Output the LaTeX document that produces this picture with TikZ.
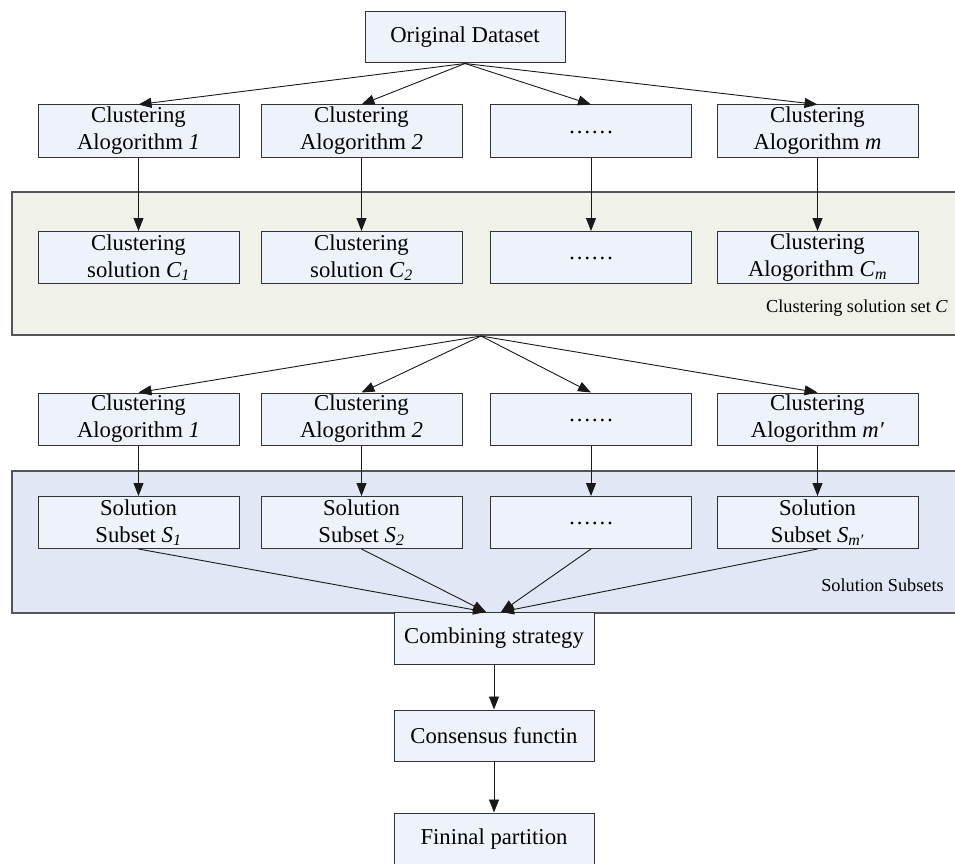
\documentclass[tikz,border=0pt]{standalone}
\usepackage{fontspec}
\setmainfont{Liberation Serif}
\usetikzlibrary{arrows.meta,calc}
\definecolor{boxfill}{HTML}{EEF2FA}
\definecolor{bandC}{HTML}{F0F1E9}
\definecolor{bandS}{HTML}{E1E7F5}
\definecolor{boxline}{HTML}{333333}
\definecolor{bandline}{HTML}{555555}
\tikzset{
  box/.style={draw=boxline, fill=boxfill, line width=1pt, minimum width=201pt, minimum height=52pt,
    inner sep=0pt, align=center, font=\fontsize{22.7}{27}\selectfont},
  band/.style={draw=bandline, line width=1.4pt},
  conn/.style={draw=black!90, line width=0.9pt, -{Triangle[length=13pt,width=10pt]}},
  bandlabel/.style={anchor=east, inner sep=0pt, font=\fontsize{18.3}{21}\selectfont}
}
\newcommand{\itsub}[2]{\textit{#1}\textsubscript{\textit{#2}}}
\newcommand{\mydots}{\raisebox{-2pt}[0pt][0pt]{……}}
\begin{document}
\begin{tikzpicture}[x=1pt,y=-1pt]
\useasboundingbox (0,0) rectangle (955,864);
% bands
\fill[bandC] (12,192) rectangle (960,335);
\draw[band] (960,192) -- (12,192) -- (12,335) -- (960,335);
\fill[bandS] (12,471) rectangle (960,613);
\draw[band] (960,471) -- (12,471) -- (12,613) -- (960,613);
\node[bandlabel] (lblC) at (948,308) {Clustering solution set \textit{C}};
\node[bandlabel] (lblS) at (944,585) {Solution Subsets};
% top
\node[box, minimum width=200pt, minimum height=51pt] (orig) at (465,37.5) {Original Dataset};
% row 1
\node[box] (a1) at (138.5,131) {Clustering\\Alogorithm \textit{1}};
\node[box] (a2) at (361.5,131) {Clustering\\Alogorithm \textit{2}};
\node[box] (a3) at (591,131) {\mydots};
\node[box] (a4) at (817.5,131) {Clustering\\Alogorithm \textit{m}};
% row 2
\node[box] (c1) at (138.5,257.5) {Clustering\\solution \itsub{C}{1}};
\node[box] (c2) at (361.5,257.5) {Clustering\\solution \itsub{C}{2}};
\node[box] (c3) at (591,257.5) {\mydots};
\node[box] (c4) at (817.5,257.5) {Clustering\\Alogorithm \itsub{C}{m}};
% row 3
\node[box] (b1) at (138.5,419) {Clustering\\Alogorithm \textit{1}};
\node[box] (b2) at (361.5,419) {Clustering\\Alogorithm \textit{2}};
\node[box] (b3) at (591,419) {\mydots};
\node[box] (b4) at (817.5,419) {Clustering\\Alogorithm \textit{m′}};
% row 4
\node[box] (s1) at (138.5,522.5) {Solution\\Subset \itsub{S}{1}};
\node[box] (s2) at (361.5,522.5) {Solution\\Subset \itsub{S}{2}};
\node[box] (s3) at (591,522.5) {\mydots};
\node[box] (s4) at (817.5,522.5) {Solution\\Subset \itsub{S}{m′}};
% bottom chain
\node[box, minimum width=200pt] (comb) at (494,638) {Combining strategy};
\node[box, minimum width=200pt, minimum height=51pt] (cons) at (494,735.5) {Consensus functin};
\node[box, minimum width=200pt] (fin) at (494,839) {Fininal partition};
% coordinates
\coordinate (fan) at (481,336);
\coordinate (cL) at (486,612);
\coordinate (cR) at (501,612);
% connectors
\foreach \n in {a1,a2,a3,a4} \draw[conn] (orig.south) -- (\n.north);
\draw[conn] (a1) -- (c1);
\draw[conn] (a2) -- (c2);
\draw[conn] (a3) -- (c3);
\draw[conn] (a4) -- (c4);
\foreach \n in {b1,b2,b3,b4} \draw[conn] (fan) -- (\n.north);
\draw[conn] (b1) -- (s1);
\draw[conn] (b2) -- (s2);
\draw[conn] (b3) -- (s3);
\draw[conn] (b4) -- (s4);
\draw[conn] (s1.south) -- (cL);
\draw[conn] (s2.south) -- (cL);
\draw[conn] (s3.south) -- (cR);
\draw[conn] (s4.south) -- (cR);
\draw[conn] (comb) -- (cons);
\draw[conn] (cons) -- (fin);
\end{tikzpicture}
\end{document}
